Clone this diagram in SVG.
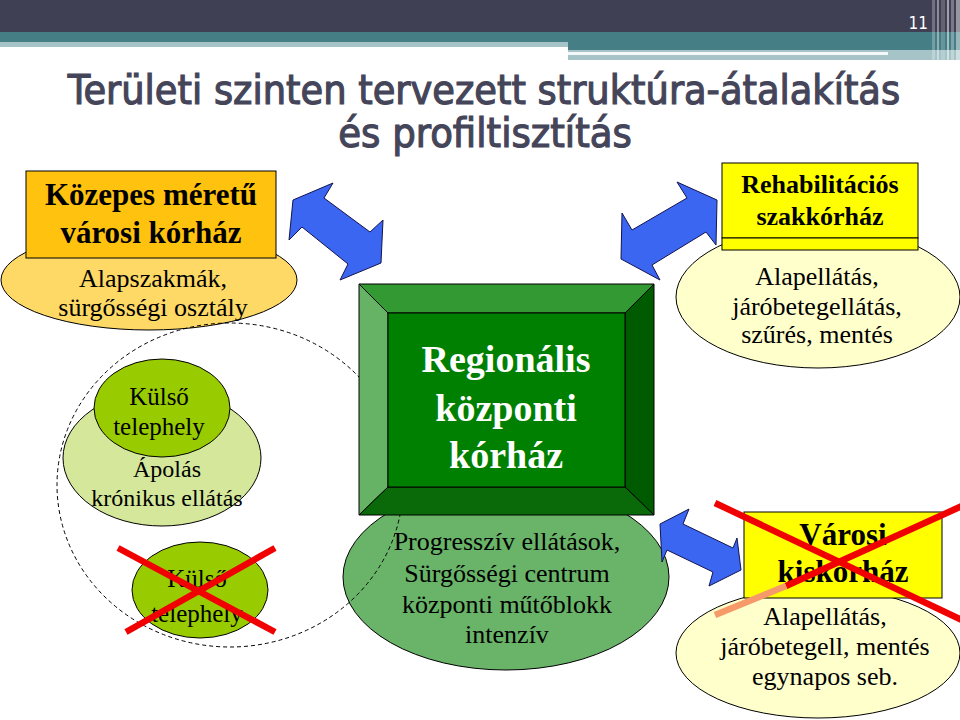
<svg xmlns="http://www.w3.org/2000/svg" width="960" height="720" viewBox="0 0 960 720">
<defs>
<style>
.ser{font-family:"Liberation Serif","Times New Roman",serif;fill:#000;text-anchor:middle}
.b{font-weight:bold}
.ol{stroke:#000;stroke-width:1}
.arrow{fill:#3B66F2;stroke:#141450;stroke-width:1;stroke-linejoin:miter}
.x{stroke:#F00000;stroke-width:6.5;stroke-linecap:butt}
</style>
</defs>
<rect width="960" height="720" fill="#fff"/>
<g id="header">
<rect x="0" y="0" width="960" height="32" fill="#404055"/>
<rect x="0" y="32" width="960" height="10" fill="#457E85"/>
<rect x="0" y="42" width="568" height="5" fill="#A6C4C8"/>
<rect x="568" y="42" width="392" height="8" fill="#457E85"/>
<rect x="568" y="50" width="392" height="10" fill="#A6C4C8"/>
<rect x="568" y="52" width="320" height="3" fill="#F4F8F8"/>
<rect x="932" y="0" width="3" height="60" fill="#fff" opacity="0.25"/>
<rect x="937" y="0" width="2" height="60" fill="#fff" opacity="0.4"/>
<rect x="941" y="0" width="4" height="60" fill="#fff" opacity="0.18"/>
<rect x="947" y="0" width="2" height="60" fill="#fff" opacity="0.5"/>
<rect x="951" y="0" width="3" height="60" fill="#fff" opacity="0.3"/>
<rect x="956" y="0" width="4" height="60" fill="#fff" opacity="0.45"/>
<text x="928" y="29" fill="#fff" font-family="DejaVu Sans Condensed, DejaVu Sans, sans-serif" font-size="17" text-anchor="end">11</text>
</g>
<g id="title" font-family="DejaVu Sans Condensed, DejaVu Sans, sans-serif" font-size="40" fill="#45455A" stroke="#45455A" stroke-width="1.1" text-anchor="middle">
<text transform="translate(484,104) scale(0.82,1)" x="0" y="0" textLength="1015" lengthAdjust="spacingAndGlyphs">Területi szinten tervezett struktúra-átalakítás</text>
<text transform="translate(485,147) scale(0.82,1)" x="0" y="0" textLength="358" lengthAdjust="spacingAndGlyphs">és profiltisztítás</text>
</g>
<g id="kozepes">
<ellipse cx="149" cy="280" rx="148" ry="50" fill="#FFD966" class="ol"/>
<rect x="26" y="171" width="250" height="87" fill="#FFC20E" class="ol"/>
<text class="ser b" x="151" y="205" font-size="31">Közepes méretű</text>
<text class="ser b" x="151" y="243" font-size="31">városi kórház</text>
<text class="ser" x="153" y="287" font-size="26">Alapszakmák,</text>
<text class="ser" x="153" y="316" font-size="26">sürgősségi osztály</text>
</g>
<g id="apolas">
<ellipse cx="162" cy="458" rx="99" ry="68" fill="#D4E79A" class="ol"/>
<ellipse cx="162" cy="408" rx="68" ry="49" fill="#99CC00" class="ol"/>
<text class="ser" x="159" y="405" font-size="25">Külső</text>
<text class="ser" x="159" y="435" font-size="25">telephely</text>
<text class="ser" x="167" y="477" font-size="24">Ápolás</text>
<text class="ser" x="167" y="506" font-size="24">krónikus ellátás</text>
</g>
<g id="kulso2">
<ellipse cx="200" cy="590" rx="68" ry="48" fill="#99CC00" class="ol"/>
<text class="ser" x="197" y="587" font-size="25">Külső</text>
<text class="ser" x="197" y="622" font-size="25">telephely</text>
</g>
<g id="progressziv">
<ellipse cx="506" cy="577" rx="163" ry="93" fill="#69B469" class="ol"/>
<text class="ser" x="507" y="550" font-size="26">Progresszív ellátások,</text>
<text class="ser" x="507" y="582" font-size="26">Sürgősségi centrum</text>
<text class="ser" x="507" y="613" font-size="26">központi műtőblokk</text>
<text class="ser" x="507" y="643" font-size="26">intenzív</text>
</g>
<g id="region">
<ellipse cx="230" cy="485" rx="173" ry="162" fill="none" stroke="#000" stroke-width="1" stroke-dasharray="4 3"/>
</g>
<g id="regionalis">
<polygon points="359,284 654,284 625,313 388,313" fill="#339933" class="ol"/>
<polygon points="359,284 388,313 388,487 359,515" fill="#66B366" class="ol"/>
<polygon points="654,284 654,515 625,487 625,313" fill="#005A00" class="ol"/>
<polygon points="359,515 388,487 625,487 654,515" fill="#0A6A0A" class="ol"/>
<rect x="388" y="313" width="237" height="174" fill="#008000" class="ol"/>
<text class="ser b" x="506" y="372" font-size="38" style="fill:#fff">Regionális</text>
<text class="ser b" x="506" y="421" font-size="38" style="fill:#fff">központi</text>
<text class="ser b" x="506" y="468" font-size="38" style="fill:#fff">kórház</text>
</g>
<g id="rehab">
<ellipse cx="818" cy="297" rx="142" ry="71" fill="#FFFFCC" class="ol"/>
<rect x="722" y="163" width="196" height="75" fill="#FFFF00" class="ol"/>
<rect x="722" y="238" width="196" height="12" fill="#FFFF00" class="ol"/>
<text class="ser b" x="820" y="193" font-size="26">Rehabilitációs</text>
<text class="ser b" x="820" y="225" font-size="26">szakkórház</text>
<text class="ser" x="817" y="285" font-size="26">Alapellátás,</text>
<text class="ser" x="817" y="315" font-size="26">járóbetegellátás,</text>
<text class="ser" x="817" y="343" font-size="26">szűrés, mentés</text>
</g>
<g id="kiskorhaz">
<ellipse cx="818" cy="653" rx="142" ry="65" fill="#FFFFCC" class="ol"/>
<rect x="744" y="512" width="198" height="86" fill="#FFFF00" class="ol"/>
<text class="ser b" x="843" y="545" font-size="31">Városi</text>
<text class="ser b" x="843" y="582" font-size="31">kiskórház</text>
<text class="ser" x="825" y="625" font-size="26">Alapellátás,</text>
<text class="ser" x="825" y="655" font-size="26">járóbetegell, mentés</text>
<text class="ser" x="825" y="685" font-size="26">egynapos seb.</text>
</g>
<g id="connectors">
<polygon class="arrow" points="293,200 333,183 324,198 370,232 383,220 381,263 340,280 348,264 302,227 289,240"/>
<polygon class="arrow" points="717,200 677,182 687,198 632,230 622,213 621,259 660,280 652,265 706,232 716,245"/>
<polygon class="arrow" points="660,524 689,509 683,524 733,548 737,538 741,570 709,586 713,572 667,550 662,562"/>
</g>
<g id="crosses">
<line class="x" x1="118" y1="548" x2="275" y2="632"/>
<line class="x" x1="126" y1="632" x2="275" y2="548"/>
<line class="x" x1="715" y1="503" x2="962" y2="620"/>
<line class="x" x1="962" y1="506" x2="786" y2="586"/>
<line x1="786" y1="586" x2="715" y2="615" stroke="#F79A6A" stroke-width="6.5"/>
</g>
</svg>
